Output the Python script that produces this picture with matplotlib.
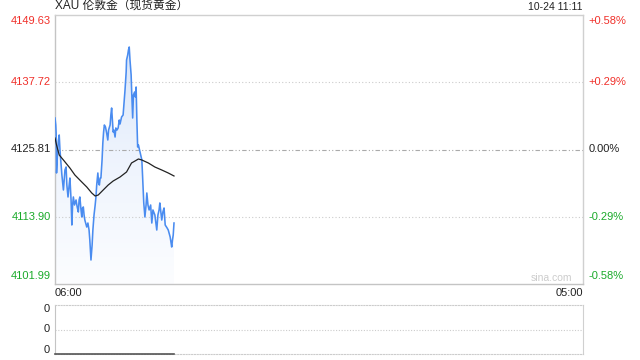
import matplotlib
matplotlib.use("Agg")
import matplotlib.pyplot as plt
import numpy as np
from matplotlib.patches import Polygon
from matplotlib.colors import LinearSegmentedColormap

# ---------------- data ----------------
title = "XAU 伦敦金（现货黄金）"
stamp = "10-24 11:11"
prev_close = 4125.81
y_ticks = [4101.99, 4113.90, 4125.81, 4137.72, 4149.63]
y_tick_labels = ["4101.99", "4113.90", "4125.81", "4137.72", "4149.63"]
pct_labels = ["-0.58%", "-0.29%", "0.00%", "+0.29%", "+0.58%"]
x_labels = ["06:00", "05:00"]
session_minutes = 1380  # 06:00 -> 05:00 next day

# minutes after 06:00
minutes = [0, 2, 3, 4, 7, 9, 11, 13, 16, 18, 22, 24, 26, 29, 31, 34, 37, 39, 42, 44,
           46, 48, 51, 55, 58, 61, 63, 65, 68, 70, 72, 74, 76, 78, 83, 86, 89, 91, 94, 97,
           99, 102, 105, 107, 109, 112, 114, 116, 118, 120, 123, 125, 127, 129, 132, 135,
           138, 140, 144, 146, 148, 150, 152, 154, 157, 159, 162, 165, 168, 170, 174, 178,
           180, 183, 186, 187, 190, 192, 194, 196, 199, 200, 203, 205, 208, 210, 212, 214,
           216, 218, 221, 224, 227, 229, 232, 235, 238, 240, 243, 246, 250, 253, 256, 261,
           266, 269, 272, 274, 279, 282, 285, 288, 293, 296, 301, 303, 305, 307, 309, 311]
prices = [4131.39, 4130.15, 4128.73, 4121.65, 4125.72, 4127.49, 4128.38, 4125.72, 4123.06, 4121.29,
          4118.64, 4120.41, 4122.18, 4122.71, 4119.52, 4117.40, 4119.52, 4120.76, 4116.87, 4112.44,
          4115.98, 4117.40, 4115.98, 4116.87, 4115.63, 4114.74, 4116.87, 4117.40, 4115.10, 4113.86,
          4115.45, 4115.63, 4114.21, 4113.32, 4112.08, 4112.79, 4111.55, 4109.78, 4106.24, 4108.90,
          4111.55, 4114.21, 4115.98, 4117.40, 4119.52, 4121.65, 4119.88, 4119.52, 4120.76, 4120.76,
          4123.95, 4126.96, 4128.91, 4130.15, 4129.79, 4128.73, 4127.49, 4129.26, 4130.15, 4131.92,
          4133.16, 4131.03, 4128.91, 4129.26, 4128.02, 4129.62, 4129.26, 4129.62, 4131.03, 4130.33,
          4131.57, 4131.92, 4133.69, 4136.35, 4139.54, 4141.66, 4142.55, 4143.43, 4143.96, 4141.66,
          4139.00, 4136.88, 4131.39, 4135.46, 4135.99, 4135.11, 4136.88, 4131.03, 4126.25, 4126.61,
          4125.72, 4124.84, 4123.95, 4120.94, 4116.34, 4113.86, 4115.98, 4118.11, 4115.98, 4115.10,
          4115.98, 4112.79, 4115.10, 4114.21, 4111.55, 4114.21, 4115.10, 4116.34, 4113.32, 4114.74,
          4115.45, 4112.44, 4111.91, 4111.55, 4110.31, 4109.43, 4108.54, 4109.78, 4110.67, 4112.79]

avg_minutes = [0, 4, 11, 22, 39, 52, 70, 83, 96, 105, 113, 126, 139, 152, 170, 187, 200, 209,
               218, 227, 244, 261, 279, 296, 311]
avg_prices = [4127.85, 4126.61, 4124.84, 4123.95, 4122.53, 4121.29, 4120.05, 4119.17, 4118.11,
              4117.57, 4117.75, 4118.64, 4119.52, 4120.23, 4120.94, 4121.83, 4123.42, 4123.77,
              4124.13, 4123.95, 4123.42, 4122.71, 4122.18, 4121.65, 4121.12]

volume = [0] * len(minutes)

# ---------------- style ----------------
RED = "#f0302a"
GREEN = "#1aaa2a"
BLACK = "#222222"
LINE = "#4a8cf0"
FONT = ["Liberation Sans", "Noto Sans CJK SC", "DejaVu Sans"]
plt.rcParams["font.family"] = FONT

fig = plt.figure(figsize=(6.4, 3.6), dpi=100)
ax = fig.add_axes([55 / 640, 1 - 284 / 360, 528 / 640, 269 / 360])
axv = fig.add_axes([55 / 640, 1 - 354 / 360, 528 / 640, 49 / 360])

ax.set_xlim(0, session_minutes)
ax.set_ylim(y_ticks[0], y_ticks[-1])

# gradient fill under the price line
ymin, ymax = y_ticks[0], y_ticks[-1]
grad = np.linspace(1, 0, 256).reshape(-1, 1)
cmap = LinearSegmentedColormap.from_list("g", ["#fcfdff", "#edf3fd", "#d3e2f9"])
im = ax.imshow(grad, extent=[0, session_minutes, ymin, ymax], aspect="auto",
               cmap=cmap, origin="upper", zorder=1)
verts = [(minutes[0], ymin)] + list(zip(minutes, prices)) + [(minutes[-1], ymin)]
poly = Polygon(verts, closed=True, facecolor="none", edgecolor="none")
ax.add_patch(poly)
im.set_clip_path(poly)

ax.plot(minutes, prices, color=LINE, lw=1.15, zorder=3)
ax.plot(avg_minutes, avg_prices, color=BLACK, lw=0.9, zorder=4)

# grid lines
for v in (y_ticks[1], y_ticks[3]):
    ax.axhline(v, color="#cccccc", lw=0.8, ls=(0, (1, 2)), zorder=2)
ax.axhline(prev_close, color="#aaaaaa", lw=0.8, ls=(0, (4, 2, 1, 2, 1, 2)), zorder=2)

ax.set_xticks([])
ax.set_yticks([])
for s in ("top", "right"):
    ax.spines[s].set_color("#d0d0d0")
for s in ("left", "bottom"):
    ax.spines[s].set_color("#c4c4c4")
for s in ax.spines.values():
    s.set_linewidth(1.0)

# y labels
cols = [GREEN, GREEN, BLACK, RED, RED]
tr_left = ax.get_yaxis_transform()
for v, lab, pl, c in zip(y_ticks, y_tick_labels, pct_labels, cols):
    if v == y_ticks[-1]:
        va, off = "top", -1
    elif v == y_ticks[0]:
        va, off = "bottom", 2
    else:
        va, off = "center", 0
    ax.annotate(lab, (0, v), xycoords=tr_left, xytext=(-3, off), textcoords="offset points",
                ha="right", va=va, color=c, fontsize=8)
    ax.annotate(pl, (1, v), xycoords=tr_left, xytext=(4, off), textcoords="offset points",
                ha="left", va=va, color=c, fontsize=8)

ax.text(0, 1.012, title, transform=ax.transAxes, ha="left", va="bottom", fontsize=8.5,
        color=BLACK, family=FONT)
ax.text(1, 1.012, stamp, transform=ax.transAxes, ha="right", va="bottom", fontsize=7.5,
        color=BLACK)
ax.text(0, -0.015, x_labels[0], transform=ax.transAxes, ha="left", va="top", fontsize=8,
        color=BLACK)
ax.text(1, -0.015, x_labels[1], transform=ax.transAxes, ha="right", va="top", fontsize=8,
        color=BLACK)
ax.text(0.98, 0.005, "sina.com", transform=ax.transAxes, ha="right", va="bottom",
        fontsize=7.5, color="#cccccc")

# volume panel
axv.set_xlim(0, session_minutes)
axv.set_ylim(0, 1)
axv.plot(minutes, volume, color="#555555", lw=1.2, zorder=3, clip_on=False)
axv.axhline(0.5, color="#cccccc", lw=0.8, ls=(0, (1, 1.5)))
axv.set_xticks([])
axv.set_yticks([])
axv.spines["top"].set_color("#cccccc")
axv.spines["top"].set_linestyle((0, (1, 1.5)))
axv.spines["bottom"].set_color("#cccccc")
axv.spines["bottom"].set_linestyle((0, (1, 1.5)))
axv.spines["left"].set_color("#c4c4c4")
axv.spines["right"].set_color("#d0d0d0")
for yv in (0.0, 0.5, 1.0):
    off = {0.0: 3, 0.5: 0, 1.0: -3}[yv]
    axv.annotate("0", (0, yv), xycoords=axv.get_yaxis_transform(), xytext=(-4, off),
                 textcoords="offset points", ha="right", va="center", fontsize=8, color=BLACK)

fig.savefig("out.png", dpi=100)
